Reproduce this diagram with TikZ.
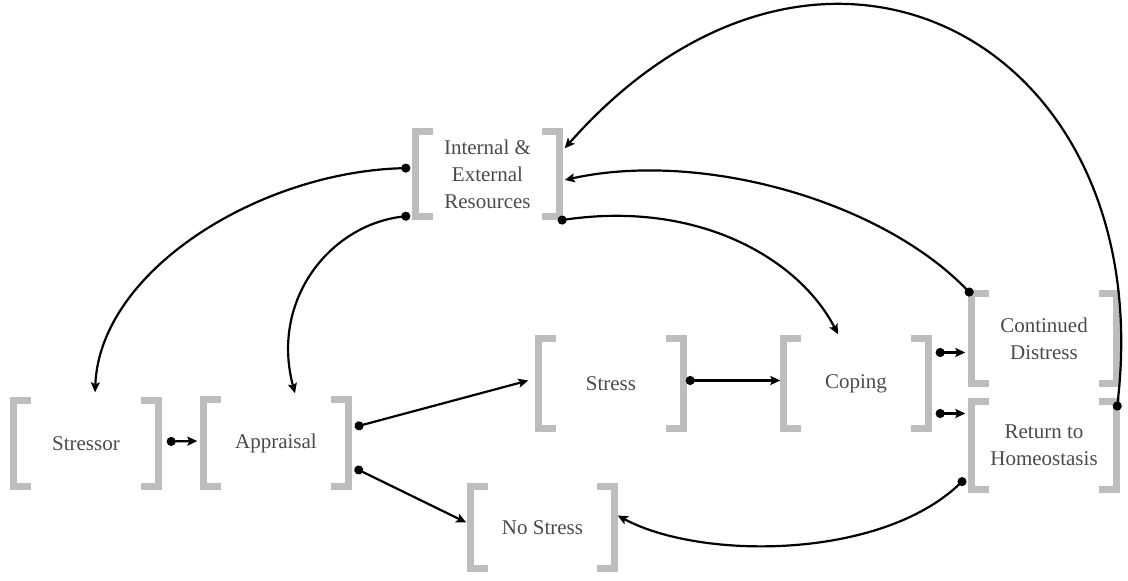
\documentclass[tikz,border=0pt]{standalone}
\usepackage{fontspec}
\setmainfont{Liberation Serif}
\usetikzlibrary{arrows.meta,calc}
\definecolor{brk}{HTML}{BDBDBD}
\definecolor{txt}{HTML}{4A4A4A}
\tikzset{
  box/.style={rectangle, inner sep=0pt, minimum width=#1, text=txt, align=center,
    font=\fontsize{21}{27}\selectfont},
  box/.default=145pt,
  bracket/.style={draw=brk, line width=7pt, line join=miter},
  conn/.style={line width=2.2pt, {Circle[length=9pt]}-{Stealth[length=10pt,width=9pt,inset=2pt]}},
}
\newcommand{\brackets}[1]{%
  \draw[bracket] ($(#1.north west)+(18,0)$) -- (#1.north west) -- (#1.south west) -- ($(#1.south west)+(18,0)$);
  \draw[bracket] ($(#1.north east)+(-18,0)$) -- (#1.north east) -- (#1.south east) -- ($(#1.south east)+(-18,0)$);
}
\begin{document}
\begin{tikzpicture}[x=1pt,y=-1pt]
\useasboundingbox (0,0) rectangle (1128,581);
\node[box, minimum height=86pt] (stressor) at (86,443.5) {Stressor};
\node[box, minimum height=87pt] (appr) at (276,443) {Appraisal};
\node[box, minimum height=90pt] (stress) at (611,383.5) {Stress};
\node[box, minimum height=90pt] (coping) at (856,383.5) {Coping};
\node[box, minimum height=90pt] (cont) at (1044,338.5) {Continued\\Distress};
\node[box, minimum height=88pt] (ret) at (1044,445.5) {Return to\\Homeostasis};
\node[box=144pt, minimum height=85pt] (res) at (487.5,174) {Internal \&\\External\\Resources};
\node[box=144pt, minimum height=82pt] (nost) at (542.5,527.5) {No Stress};
\foreach \n in {stressor,appr,stress,coping,cont,ret,res,nost} {\brackets{\n}}
% connectors
\draw[conn] ($(stressor.east)+(8,-2)$) -- ($(appr.west)+(-6,-2)$);
\draw[conn] ($(appr.east)+(6,-16)$) -- ($(stress.west)+(-10,-3)$);
\draw[conn] ($(appr.east)+(6,25)$) -- ($(nost.west)+(-4,-5)$);
\draw[conn] ($(stress.east)+(2,-3)$) -- ($(coping.west)+(-3,-3)$);
\draw[conn] ($(coping.east)+(7,-31)$) -- ($(cont.west)+(-6,14)$);
\draw[conn] ($(coping.east)+(7,30)$) -- ($(ret.west)+(-6,-32)$);
\draw[conn] ($(res.west)+(-5,-6)$) .. controls (260,172) and (100,270) .. ($(stressor.north)+(9,-8)$);
\draw[conn] ($(res.south west)+(-5,-1)$) .. controls (330,225) and (270,300) .. ($(appr.north)+(19,-6)$);
\draw[conn] ($(res.south east)+(-2,4)$) .. controls (700,200) and (800,260) .. ($(coping.north)+(-18,-4)$);
\draw[conn] ($(cont.north west)+(1,2)$) .. controls (880,200) and (700,150) .. ($(res.east)+(5,6)$);
\draw[conn] ($(ret.east)+(0,-35)$) .. controls (1160,40) and (820,-140) .. ($(res.north east)+(5,17)$);
\draw[conn] ($(ret.west)+(-6,33)$) .. controls (880,560) and (700,560) .. ($(nost.east)+(3,-12)$);
\end{tikzpicture}
\end{document}
